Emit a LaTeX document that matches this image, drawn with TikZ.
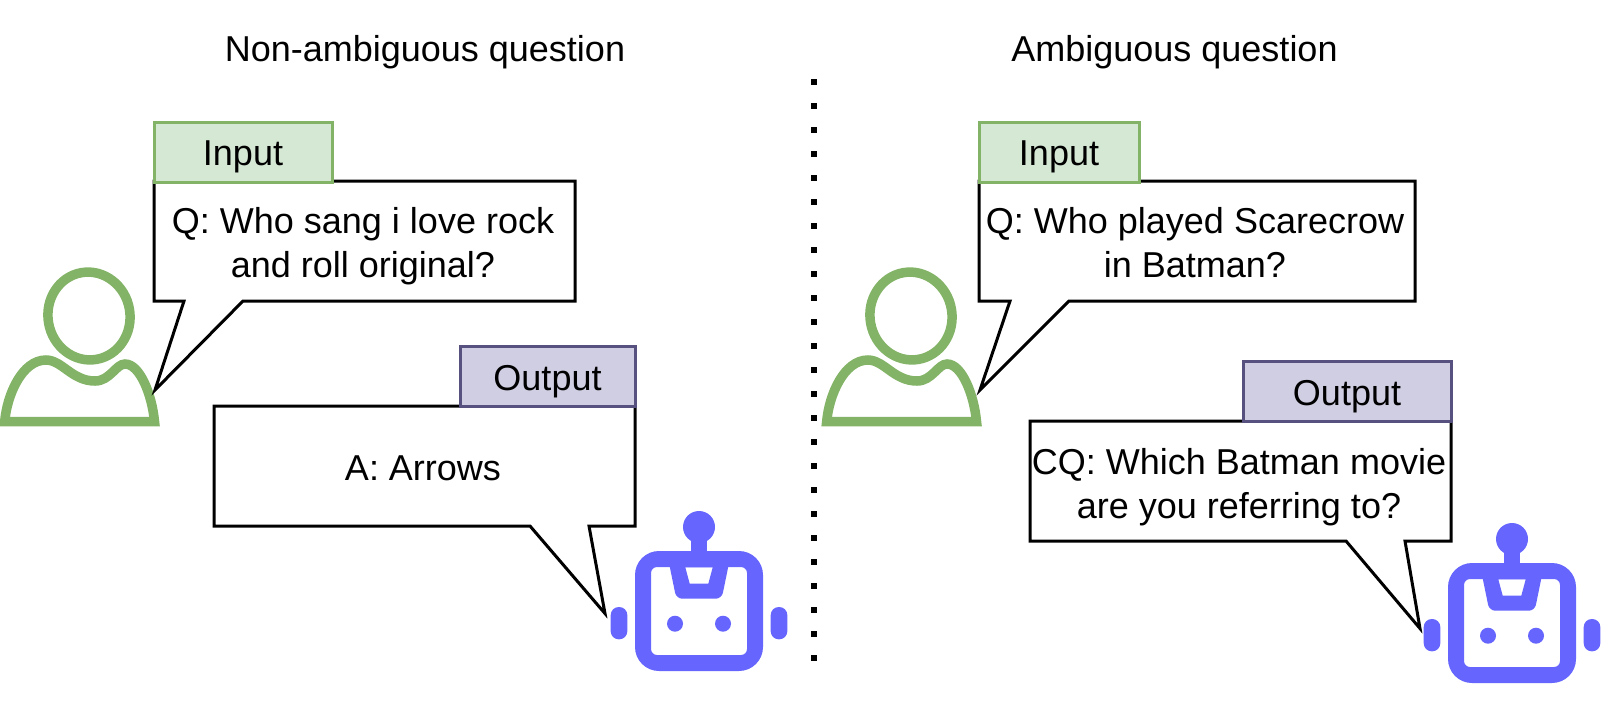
\documentclass[tikz,border=0pt]{standalone}
\usepackage{xcolor}
\usepackage{fontspec}
\setmainfont{Liberation Sans}
\usepackage{tikz}
\definecolor{inputfill}{HTML}{D5E8D4}
\definecolor{inputline}{HTML}{82B366}
\definecolor{outputfill}{HTML}{D0CEE2}
\definecolor{outputline}{HTML}{56517E}
\definecolor{botblue}{HTML}{6666FF}
\tikzset{
  labeltext/.style={font=\fontsize{18}{22}\selectfont, align=center, inner sep=0pt},
  bubble/.style={draw=black, line width=1.5pt, fill=white},
  tagbox/.style={labeltext, line width=1.5pt, minimum height=30pt, text height=21.75pt, text depth=8.25pt},
  inputtag/.style={tagbox, draw=inputline, fill=inputfill},
  outputtag/.style={tagbox, draw=outputline, fill=outputfill},
  userfigure/.pic={
    \draw[inputline, line width=4.75pt, rotate around={10:(89,316)}] (89,316) ellipse (41 and 44);
    \draw[inputline, line width=4.75pt, line join=miter] (4.7,421.5) .. controls (7,395) and (22,360) .. (46,360)
      .. controls (62,360) and (72,381) .. (95,381)
      .. controls (110,381) and (116,364) .. (125,364)
      .. controls (140,364) and (152,395) .. (154.5,421.5) -- cycle;
  },
  robotfigure/.pic={
    \fill[botblue] (0,-24) circle (16);
    \fill[botblue] (-8,-24) rectangle (8,4);
    \fill[botblue, even odd rule, rounded corners=12pt] (-64,0) rectangle (64,120)
      [rounded corners=3pt] (-48,16) rectangle (48,104);
    \fill[botblue, even odd rule] (-29.6,14) [rounded corners=3pt] -- (-22.7,47.7) -- (22.7,47.7) [sharp corners] -- (29.6,14) -- cycle
      (-13.7,16.3) -- (13.7,16.3) -- (9.3,32.7) -- (-9.3,32.7) -- cycle;
    \fill[botblue] (-24,72.7) circle (8) (24,72.7) circle (8);
    \fill[botblue, rounded corners=4pt] (-88.3,56) rectangle (-71.7,88.3);
    \fill[botblue, rounded corners=4pt] (71.7,56) rectangle (88.3,88.3);
  }
}

\begin{document}
\begin{tikzpicture}[x=0.5pt, y=-0.5pt]
  \useasboundingbox (0,0) rectangle (1611,702);

  % Column titles
  \node[labeltext, anchor=base] (titleleft) at (425,61) {Non-ambiguous question};
  \node[labeltext, anchor=base] (titleright) at (1174.5,61) {Ambiguous question};

  % Dotted divider between the two columns
  \coordinate (dividertop) at (814,79);
  \coordinate (dividerbottom) at (814,661);
  \draw[black, line width=3pt, dash pattern=on 3pt off 9pt] (dividertop) -- (dividerbottom);

  % Non-ambiguous question
  \pic at (0,0) {userfigure};
  \pic at (699,551) {robotfigure};

  % Input speech bubble
  \draw[bubble] (154,181) -- (575,181) -- (575,301) -- (243,301) -- (155,390) -- (184,301) -- (154,301) -- cycle;
  \node[labeltext] (questionleft) at (363,246) {Q: Who sang i love rock\\and roll original?};
  \node[inputtag, minimum width=89pt] (inputleft) at (243,152) {Input};

  % Output speech bubble
  \draw[bubble] (214,406) -- (635,406) -- (635,526) -- (589,526) -- (605,613.5) -- (530,526) -- (214,526) -- cycle;
  \node[labeltext, anchor=base] (answerleft) at (423,480) {A: Arrows};
  \node[outputtag, minimum width=87.5pt] (outputleft) at (547.5,376.5) {Output};

  % Ambiguous question
  \pic at (822,0) {userfigure};
  \pic at (1512,563) {robotfigure};

  % Input speech bubble
  \draw[bubble] (979,181) -- (1415,181) -- (1415,301) -- (1069,301) -- (980,390) -- (1010,301) -- (979,301) -- cycle;
  \node[labeltext] (questionright) at (1195,243) {Q: Who played Scarecrow\\in Batman?};
  \node[inputtag, minimum width=80pt] (inputright) at (1059,152) {Input};

  % Output speech bubble
  \draw[bubble] (1030,421) -- (1451,421) -- (1451,541) -- (1405,541) -- (1420,628.5) -- (1346,541) -- (1030,541) -- cycle;
  \node[labeltext] (clarifyright) at (1239,487) {CQ: Which Batman movie\\are you referring to?};
  \node[outputtag, minimum width=104pt] (outputright) at (1347,391.5) {Output};
\end{tikzpicture}
\end{document}
